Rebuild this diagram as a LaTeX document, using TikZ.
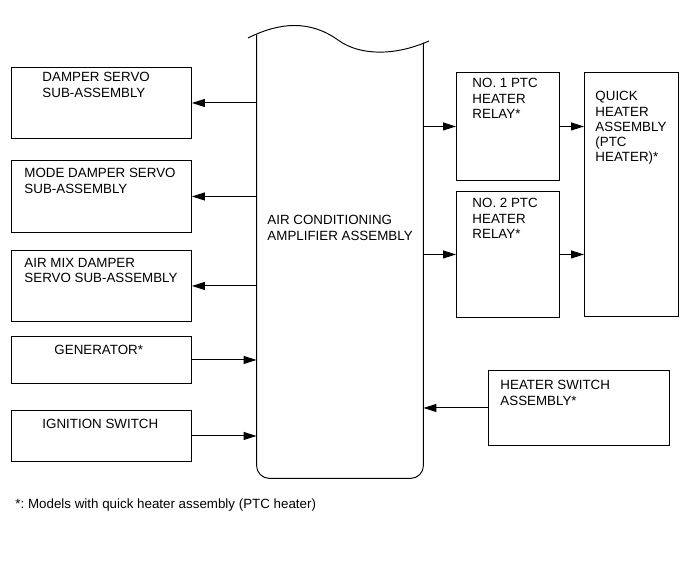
\documentclass[tikz,border=0pt]{standalone}
\usepackage{fontspec}
\setmainfont{Liberation Sans}
\usetikzlibrary{arrows.meta, calc}
\definecolor{inkcol}{RGB}{0,0,0}
\tikzset{
  blockbox/.style={draw=inkcol, rectangle, anchor=north west, inner sep=0pt, minimum width=3.6cm},
  blocktext/.style={inkcol, anchor=north west, inner sep=0pt, align=left,
    font=\fontsize{7.6}{8.7}\selectfont\frenchspacing}
}

\begin{document}
\begin{tikzpicture}[
    x=0.02cm, y=-0.02cm,
    >={Triangle[length=2.6mm, width=1.6mm]},
    line width=0.55pt
  ]
  \useasboundingbox (0,0) rectangle (691,564);

  % --- amplifier, the tall block in the middle -----------------------------
  \node[minimum width=3.32cm, minimum height=8.86cm, inner sep=0pt] (Amp) at (340,256.5) {};
  \draw[inkcol, rounded corners=0.26cm]
    (Amp.north west) -- (Amp.south west) -- (Amp.south east) -- ($(Amp.north east)+(0,8)$);
  \draw[inkcol] (248,38) .. controls (280,22) and (310,20) .. (338,40)
                         .. controls (360,56) and (395,56) .. (429,41);
  \node[blocktext] at (267,215) {AIR CONDITIONING\\AMPLIFIER ASSEMBLY};

  % --- left column ---------------------------------------------------------
  \node[blockbox, minimum height=1.42cm] (DamperServo) at (11,67) {};
  \node[blocktext] at ($(DamperServo.north west)+(31,5)$) {DAMPER SERVO\\SUB-ASSEMBLY};

  \node[blockbox, minimum height=1.44cm] (ModeServo) at (11,160) {};
  \node[blocktext] at ($(ModeServo.north west)+(13,8)$) {MODE DAMPER SERVO\\SUB-ASSEMBLY};

  \node[blockbox, minimum height=1.42cm] (AirMixServo) at (11,250) {};
  \node[blocktext] at ($(AirMixServo.north west)+(13,8)$) {AIR MIX DAMPER\\SERVO SUB-ASSEMBLY};

  \node[blockbox, minimum height=0.94cm] (Generator) at (11,336) {};
  \node[blocktext] at ($(Generator.north west)+(43,9)$) {GENERATOR*};

  \node[blockbox, minimum height=1.02cm] (IgnSwitch) at (11,410) {};
  \node[blocktext] at ($(IgnSwitch.north west)+(31,9)$) {IGNITION SWITCH};

  % --- right side ----------------------------------------------------------
  \node[blockbox, minimum width=2.06cm, minimum height=2.16cm] (PtcRelayA) at (456,72) {};
  \node[blocktext] at ($(PtcRelayA.north west)+(16,6)$) {NO. 1 PTC\\HEATER\\RELAY*};

  \node[blockbox, minimum width=2.06cm, minimum height=2.52cm] (PtcRelayB) at (456,191) {};
  \node[blocktext] at ($(PtcRelayB.north west)+(16,7)$) {NO. 2 PTC\\HEATER\\RELAY*};

  \node[blockbox, minimum width=1.88cm, minimum height=4.88cm] (QuickHeater) at (584,72) {};
  \node[blocktext] at ($(QuickHeater.north west)+(11,19)$) {QUICK\\HEATER\\ASSEMBLY\\(PTC\\HEATER)*};

  \node[blockbox, minimum width=3.62cm, minimum height=1.5cm] (HeaterSwitch) at (488,370) {};
  \node[blocktext] at ($(HeaterSwitch.north west)+(12,10)$) {HEATER SWITCH\\ASSEMBLY*};

  % --- signal lines --------------------------------------------------------
  \draw[inkcol, ->] (Amp.west |- DamperServo.east) -- (DamperServo.east);
  \draw[inkcol, ->] (Amp.west |- ModeServo.east) -- (ModeServo.east);
  \draw[inkcol, ->] (Amp.west |- AirMixServo.east) -- (AirMixServo.east);
  \draw[inkcol, ->] (Generator.east) -- (Amp.west |- Generator.east);
  \draw[inkcol, ->] (IgnSwitch.east) -- (Amp.west |- IgnSwitch.east);
  \draw[inkcol, ->] (Amp.east |- PtcRelayA.west) -- (PtcRelayA.west);
  \draw[inkcol, ->] (Amp.east |- PtcRelayB.west) -- (PtcRelayB.west);
  \draw[inkcol, ->] (PtcRelayA.east) -- (QuickHeater.west |- PtcRelayA.east);
  \draw[inkcol, ->] (PtcRelayB.east) -- (QuickHeater.west |- PtcRelayB.east);
  \draw[inkcol, ->] (HeaterSwitch.west) -- (Amp.east |- HeaterSwitch.west);

  % --- footnote ------------------------------------------------------------
  \node[blocktext] (Footnote) at (15,498) {*: Models with quick heater assembly (PTC heater)};

\end{tikzpicture}
\end{document}
